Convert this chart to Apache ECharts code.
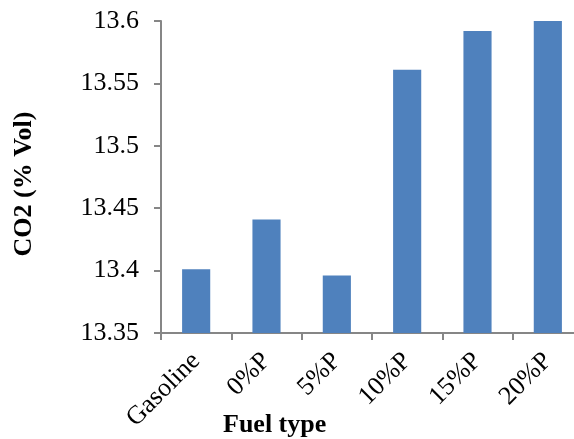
<!DOCTYPE html>
<html><head><meta charset="utf-8">
<script src="https://cdn.jsdelivr.net/npm/echarts@6/dist/echarts.min.js"></script>
<style>html,body{margin:0;padding:0;background:#fff}#c{width:574px;height:439px}</style>
</head><body><div id="c"></div>
<script>
const categories = ['Gasoline', '0%P', '5%P', '10%P', '15%P', '20%P'];
const co2Values = [13.401, 13.441, 13.396, 13.561, 13.592, 13.6];
const yTicks = [13.35, 13.4, 13.45, 13.5, 13.55, 13.6];

const chart = echarts.init(document.getElementById('c'), null, {renderer: 'canvas'});
const font = '"Liberation Serif", "Times New Roman", serif';
chart.setOption({
  animation: false,
  grid: {left: 161, top: 21, right: -9, bottom: 106, containLabel: false, outerBoundsMode: 'none'},
  graphic: [{
    type: 'text',
    left: 223,
    top: 412,
    style: {text: 'Fuel type', fontFamily: font, fontSize: 26, fontWeight: 'bold', fill: '#000'}
  }],
  xAxis: {
    type: 'category',
    data: categories,
    axisLine: {lineStyle: {color: '#868686', width: 2}},
    axisTick: {show: true, length: 7, lineStyle: {color: '#868686', width: 2}},
    axisLabel: {rotate: 45, margin: 24, color: '#000', fontFamily: font, fontSize: 26, interval: 0}
  },
  yAxis: {
    type: 'value',
    min: yTicks[0],
    max: yTicks[yTicks.length - 1],
    interval: 0.05,
    axisLine: {show: true, lineStyle: {color: '#868686', width: 2}},
    axisTick: {show: true, length: 7, lineStyle: {color: '#868686', width: 2}},
    splitLine: {show: false},
    axisLabel: {margin: 22, color: '#000', fontFamily: font, fontSize: 26,
      formatter: v => String(parseFloat(v.toFixed(2)))},
    name: 'CO2 (% Vol)',
    nameLocation: 'middle',
    nameGap: 124,
    nameMoveOverlap: false,
    nameTextStyle: {fontFamily: font, fontSize: 26, fontWeight: 'bold', color: '#000', padding: [0, 14, 0, 0]}
  },
  series: [{
    type: 'bar',
    data: co2Values,
    barWidth: '40%',
    itemStyle: {color: '#4F81BD'}
  }]
});
</script></body></html>
